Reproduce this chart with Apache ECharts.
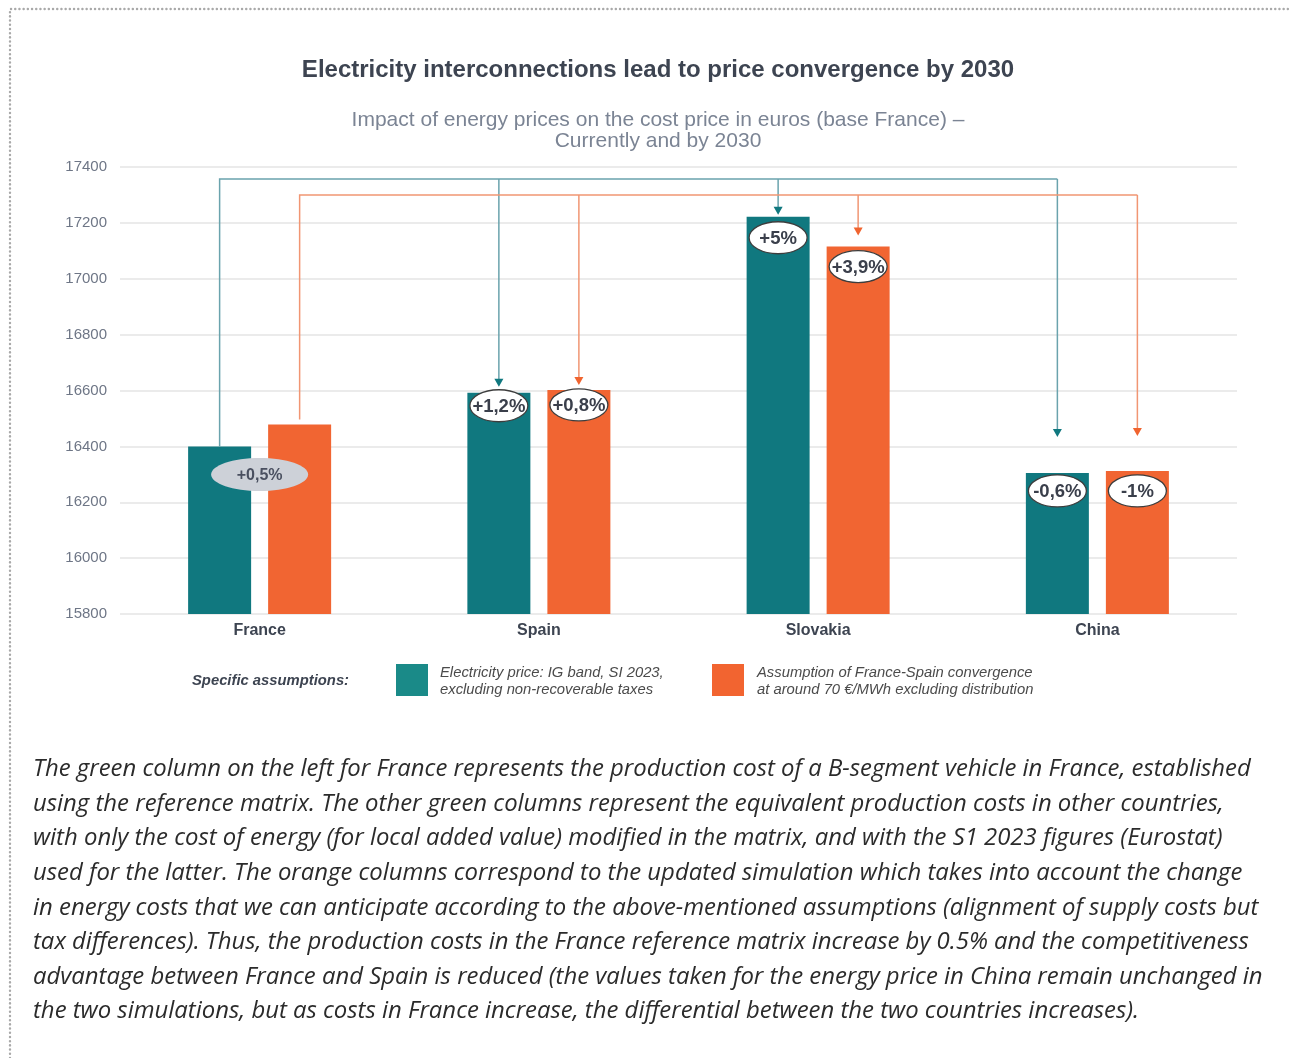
<!DOCTYPE html>
<html>
<head>
<meta charset="utf-8">
<title>Electricity interconnections lead to price convergence by 2030</title>
<script src="https://cdn.jsdelivr.net/npm/echarts@6/dist/echarts.min.js"></script>
<style>
  html, body { margin: 0; padding: 0; background: #ffffff; }
  #chart { width: 1289px; height: 1058px; }
</style>
</head>
<body>
<div id="chart"></div>
<script>
// Countries compared
const countries = ['France', 'Spain', 'Slovakia', 'China'];

// Production cost of a B-segment vehicle (euros)
const costCurrent = [16400, 16592, 17222, 16305];   // electricity price: IG band, S1 2023
const cost2030 = [16478, 16602, 17115, 16312];      // France-Spain convergence assumption

// Change versus the French reference, as printed on the columns
const labelsCurrent = ['', '+1,2%', '+5%', '-0,6%'];
const labels2030 = ['+0,5%', '+0,8%', '+3,9%', '-1%'];

// Value axis ticks
const yMin = 15800;
const yMax = 17400;
const yStep = 200;

// Legend texts
const legendTitle = 'Specific assumptions:';
const legendCurrent = ['Electricity price: IG band, SI 2023,', 'excluding non-recoverable taxes'];
const legend2030 = ['Assumption of France-Spain convergence', 'at around 70 €/MWh excluding distribution'];

// Commentary under the chart
const noteLines = [
  'The green column on the left for France represents the production cost of a B-segment vehicle in France, established',
  'using the reference matrix. The other green columns represent the equivalent production costs in other countries,',
  'with only the cost of energy (for local added value) modified in the matrix, and with the S1 2023 figures (Eurostat)',
  'used for the latter. The orange columns correspond to the updated simulation which takes into account the change',
  'in energy costs that we can anticipate according to the above-mentioned assumptions (alignment of supply costs but',
  'tax differences). Thus, the production costs in the France reference matrix increase by 0.5% and the competitiveness',
  'advantage between France and Spain is reduced (the values taken for the energy price in China remain unchanged in',
  'the two simulations, but as costs in France increase, the differential between the two countries increases).'
];

// ---- styling ----
const TEAL = '#10787f';
const ORANGE = '#f16532';
const TEAL_LINE = '#6aa3ad';
const ORANGE_LINE = '#f19673';
const DARK = '#3d4451';
const FONT = '"Liberation Sans", Arial, Helvetica, sans-serif';

const BAR_W = 63;
const BAR_GAP = 0.27;
const BAR_OFFSET = (BAR_W + BAR_W * BAR_GAP) / 2;   // distance from category centre to each bar centre

// pixel spacing between arrow tip and column top (index 0 = starting column)
const arrowGapCurrent = [0, 6, 2, 36];
const arrowGap2030 = [5, 5, 11, 35];
// vertical position of the ellipse label centre below the column top
const labelDyCurrent = [0, 13, 21, 18];
const labelDy2030 = [0, 15, 20, 20];

function linkRenderer(values, side, levelPx, gaps, headColor, lineColor) {
  return function (params, api) {
    const i = params.dataIndex;
    const pt = api.coord([i, values[i]]);
    const x = pt[0] + side * BAR_OFFSET;
    const top = pt[1];
    const yLevel = api.coord([0, yMax])[1] + levelPx;
    const children = [];
    if (i === 0) {
      const last = values.length - 1;
      const lastX = api.coord([last, values[last]])[0] + side * BAR_OFFSET;
      children.push({
        type: 'polyline',
        shape: { points: [[x, top - gaps[0]], [x, yLevel], [lastX, yLevel]] },
        style: { stroke: lineColor, lineWidth: 1.5, fill: null }
      });
    } else {
      const tip = top - gaps[i];
      children.push({
        type: 'line',
        shape: { x1: x, y1: yLevel, x2: x, y2: tip - 6 },
        style: { stroke: lineColor, lineWidth: 1.5 }
      });
      children.push({
        type: 'polygon',
        shape: { points: [[x - 4.5, tip - 8], [x + 4.5, tip - 8], [x, tip]] },
        style: { fill: headColor }
      });
    }
    return { type: 'group', children: children };
  };
}

function ellipseLabel(cx, cy, rx, ry, text, fill, stroke, font, color) {
  return {
    type: 'group',
    children: [
      {
        type: 'ellipse',
        shape: { cx: cx, cy: cy, rx: rx, ry: ry },
        style: { fill: fill, stroke: stroke, lineWidth: stroke ? 1.3 : 0 }
      },
      {
        type: 'text',
        style: {
          text: text, x: cx, y: cy + 1,
          align: 'center', verticalAlign: 'middle',
          fill: color, font: font
        }
      }
    ]
  };
}

function labelRenderer(values, side, labels, dys) {
  return function (params, api) {
    const i = params.dataIndex;
    const pt = api.coord([i, values[i]]);
    if (side > 0 && i === 0) {
      // France: change between the two simulations, centred on the category
      const ref = api.coord([0, costCurrent[0]]);
      return ellipseLabel(ref[0], ref[1] + 28, 48.5, 16.5, labels[i], '#cdd1d8', null,
        'bold 16px ' + FONT, '#4a5060');
    }
    if (!labels[i]) return null;
    return ellipseLabel(pt[0] + side * BAR_OFFSET, pt[1] + dys[i], 29, 16, labels[i], '#ffffff', '#3d3d3d',
      'bold 18.5px ' + FONT, '#3a3f4b');
  };
}

const chart = echarts.init(document.getElementById('chart'), null, { renderer: 'canvas' });

const graphics = [
  // dotted frame (top and left edges)
  {
    type: 'polyline',
    shape: { points: [[10, 1058], [10, 9], [1289, 9]] },
    style: { stroke: '#a9a9a9', lineWidth: 2.4, lineDash: [0.1, 4.1], lineCap: 'round', fill: null },
    silent: true
  },
  // legend
  {
    type: 'text',
    style: { text: legendTitle, x: 192, y: 681, verticalAlign: 'middle', fill: DARK, font: 'italic bold 14.8px ' + FONT }
  },
  { type: 'rect', shape: { x: 396, y: 664, width: 32, height: 32 }, style: { fill: '#1a8a88' } },
  {
    type: 'text',
    style: { text: legendCurrent.join('\n'), x: 440, y: 664, lineHeight: 17, fill: '#4b4b4b', font: 'italic 14.8px ' + FONT }
  },
  { type: 'rect', shape: { x: 712, y: 664, width: 32, height: 32 }, style: { fill: '#f26430' } },
  {
    type: 'text',
    style: { text: legend2030.join('\n'), x: 757, y: 664, lineHeight: 17, fill: '#4b4b4b', font: 'italic 14.8px ' + FONT }
  },
  // commentary
  {
    type: 'text',
    style: {
      text: noteLines.join('\n'), x: 33, y: 752, lineHeight: 34.6,
      fill: '#2b2b2b', font: 'italic 23.9px "Open Sans", sans-serif'
    }
  }
];

const option = {
  backgroundColor: '#ffffff',
  animation: false,
  title: [
    {
      text: 'Electricity interconnections lead to price convergence by 2030',
      left: 653, top: 53, textAlign: 'center',
      textStyle: { fontFamily: FONT, fontSize: 24, fontWeight: 'bold', color: DARK }
    },
    {
      text: 'Impact of energy prices on the cost price in euros (base France) –\nCurrently and by 2030',
      left: 653, top: 105, textAlign: 'center',
      textStyle: { fontFamily: FONT, fontSize: 21, fontWeight: 'normal', color: '#7b8494', lineHeight: 21 }
    }
  ],
  grid: { left: 120, right: 52, top: 167, bottom: 444, containLabel: false },
  xAxis: {
    type: 'category',
    data: countries,
    axisLine: { show: false },
    axisTick: { show: false },
    axisLabel: { fontFamily: FONT, fontSize: 16, fontWeight: 'bold', color: DARK, margin: 9 }
  },
  yAxis: {
    type: 'value',
    min: yMin, max: yMax, interval: yStep,
    axisLine: { show: false },
    axisTick: { show: false },
    axisLabel: {
      fontFamily: FONT, fontSize: 15, color: '#6e7686', margin: 13,
      formatter: (v) => String(v)
    },
    splitLine: { lineStyle: { color: '#e5e5e5', width: 1.5 } }
  },
  series: [
    {
      name: 'Current',
      type: 'bar',
      data: costCurrent,
      barWidth: BAR_W,
      barGap: (BAR_GAP * 100) + '%',
      itemStyle: { color: TEAL },
      z: 2
    },
    {
      name: '2030',
      type: 'bar',
      data: cost2030,
      barWidth: BAR_W,
      itemStyle: { color: ORANGE },
      z: 2
    },
    {
      type: 'custom',
      data: costCurrent.map((v, i) => [i, v]),
      renderItem: linkRenderer(costCurrent, -1, 12, arrowGapCurrent, TEAL, TEAL_LINE),
      z: 3, silent: true
    },
    {
      type: 'custom',
      data: cost2030.map((v, i) => [i, v]),
      renderItem: linkRenderer(cost2030, 1, 28, arrowGap2030, '#f0642f', ORANGE_LINE),
      z: 3, silent: true
    },
    {
      type: 'custom',
      data: costCurrent.map((v, i) => [i, v]),
      renderItem: labelRenderer(costCurrent, -1, labelsCurrent, labelDyCurrent),
      z: 5, silent: true
    },
    {
      type: 'custom',
      data: cost2030.map((v, i) => [i, v]),
      renderItem: labelRenderer(cost2030, 1, labels2030, labelDy2030),
      z: 5, silent: true
    }
  ],
  graphic: graphics
};

chart.setOption(option);
</script>
</body>
</html>
